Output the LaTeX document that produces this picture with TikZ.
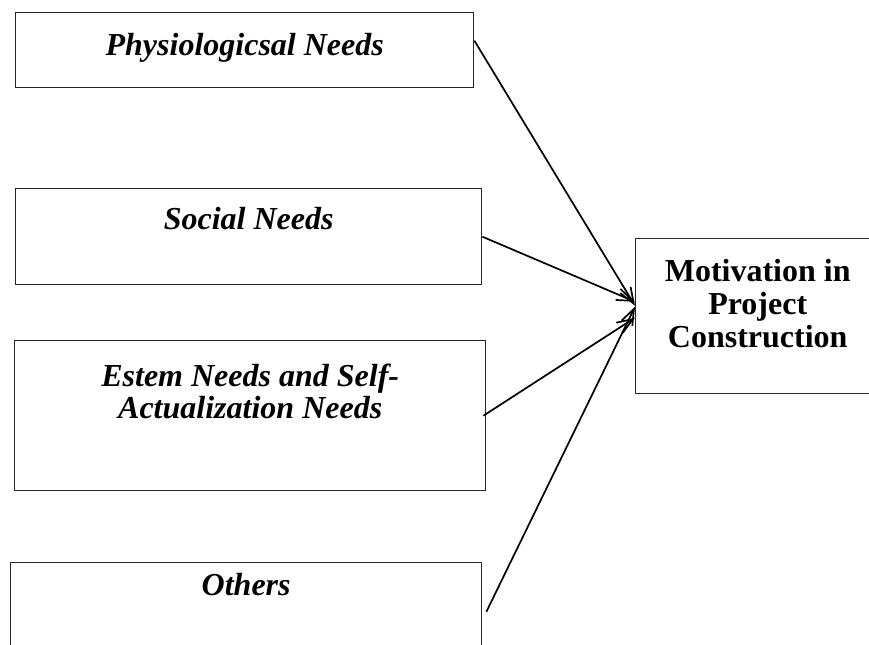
\documentclass[tikz,border=0pt]{standalone}
\usepackage{fontspec}
\setmainfont{Liberation Serif}
\usetikzlibrary{positioning,arrows.meta}

\begin{document}
\begin{tikzpicture}[
x=0.5pt, y=-0.5pt,
needbox/.style={rectangle, draw=black!85, line width=0.7pt, anchor=north west, inner sep=0pt},
needtext/.style={inner sep=0pt, align=center, font=\bfseries\itshape\fontsize{16}{16}\selectfont},
goaltext/.style={inner sep=0pt, align=center, font=\bfseries\fontsize{16}{16.5}\selectfont},
arrow/.style={-{Straight Barb[length=8pt,width=6pt]}, line width=0.85pt},
]

\clip (0,0) rectangle (869,644);

\node[needbox, minimum width=229pt, minimum height=37.5pt] (phys) at (15,12) {};
\node[needbox, minimum width=233pt, minimum height=48pt] (social) at (15,188) {};
\node[needbox, minimum width=235.5pt, minimum height=75pt] (estem) at (14,340) {};
\node[needbox, minimum width=235.5pt, minimum height=45pt] (others) at (10,562) {};
\node[needbox, minimum width=122pt, minimum height=77.5pt] (mot) at (635,238) {};

\node[needtext] (physlabel) [below=10.5pt of phys.north] {Physiologicsal Needs};
\node[needtext] (sociallabel) [below=9.5pt of social.north] {Social Needs};
\node[needtext] (estemlabel) [below=12pt of estem.north] {Estem Needs and Self-\\Actualization Needs};
\node[needtext] (otherslabel) [below=5.5pt of others.north] {Others};
\node[goaltext] (motlabel) [below=10.5pt of mot.north] {Motivation in\\Project\\Construction};

\draw[arrow] ([yshift=4.75pt]phys.east) -- ([yshift=5.25pt]mot.west);
\draw[arrow] (social.east) -- ([yshift=7.25pt]mot.west);
\draw[arrow] ([xshift=-1.5pt]estem.east) -- ([yshift=-0.75pt]mot.west);
\draw[arrow] ([xshift=2pt,yshift=-2pt]others.east) -- ([yshift=4.75pt]mot.west);

\end{tikzpicture}
\end{document}
